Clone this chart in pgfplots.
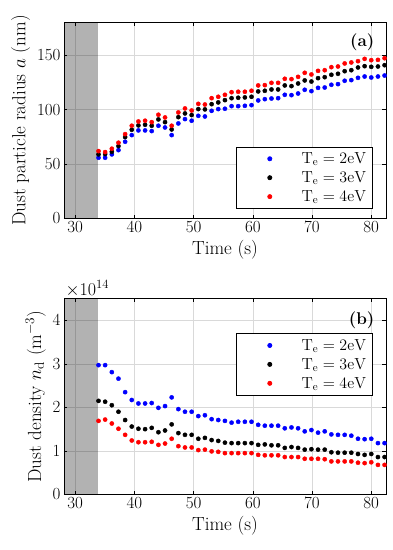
\RequirePackage{fix-cm}
\documentclass[border=0pt]{standalone}
\usepackage{pgfplots}
\pgfplotsset{compat=1.18}
\usepackage{pgfplotstable}

\pgfplotstableread{
t a2 a3 a4 n2 n3 n4
33.93 55.8 58.9 61.9 2.97 2.15 1.69
35.05 55.8 59.2 61.0 2.97 2.13 1.72
36.18 58.9 61.3 64.1 2.81 2.05 1.63
37.30 62.8 66.5 69.6 2.66 1.90 1.51
38.43 70.5 74.8 77.5 2.35 1.71 1.37
39.55 76.6 81.5 85.2 2.17 1.56 1.24
40.67 80.9 85.5 89.1 2.09 1.51 1.20
41.80 80.9 86.1 89.8 2.09 1.50 1.20
42.92 80.3 85.2 88.5 2.10 1.53 1.21
44.05 85.2 91.0 95.3 1.99 1.43 1.14
45.17 83.6 88.5 92.8 2.03 1.47 1.17
46.29 76.6 81.8 85.2 2.23 1.61 1.28
47.42 87.3 93.1 97.4 1.96 1.41 1.11
48.54 91.3 96.5 101.1 1.90 1.37 1.08
49.67 89.8 95.0 99.2 1.90 1.37 1.08
50.79 94.3 100.5 105.3 1.80 1.28 1.02
51.91 93.7 100.2 104.7 1.82 1.30 1.03
53.04 98.9 105.0 110.5 1.73 1.25 0.99
54.16 100.5 106.6 111.8 1.71 1.23 0.98
55.29 100.8 108.7 113.6 1.69 1.19 0.95
56.41 103.2 110.5 116.0 1.65 1.18 0.95
57.53 103.2 110.9 116.4 1.67 1.18 0.95
58.66 103.5 111.2 116.4 1.67 1.18 0.95
59.78 104.1 111.8 117.3 1.67 1.18 0.95
60.91 108.4 116.7 122.2 1.60 1.14 0.91
62.03 109.6 117.3 122.5 1.58 1.15 0.90
63.15 110.2 118.5 124.6 1.58 1.13 0.90
64.28 110.5 118.5 124.6 1.58 1.13 0.90
65.40 113.6 122.2 128.3 1.52 1.07 0.86
66.53 113.3 121.6 128.0 1.54 1.09 0.86
67.65 114.8 124.0 130.1 1.52 1.07 0.86
68.77 118.2 126.8 133.8 1.45 1.03 0.82
69.90 117.0 125.8 132.3 1.48 1.04 0.82
71.02 120.0 128.9 135.6 1.42 1.03 0.82
72.15 120.3 129.8 136.2 1.45 1.03 0.81
73.27 122.8 132.0 139.0 1.38 0.97 0.76
74.39 123.4 132.9 139.6 1.37 0.96 0.76
75.52 126.5 135.3 142.4 1.37 0.96 0.76
76.64 127.1 136.2 143.3 1.35 0.96 0.76
77.77 129.2 138.7 144.5 1.28 0.93 0.73
78.89 130.4 139.9 146.6 1.27 0.91 0.72
80.01 129.5 139.3 145.4 1.28 0.93 0.74
81.14 130.4 139.6 145.7 1.18 0.86 0.68
82.26 131.3 140.8 147.2 1.18 0.86 0.68
}\data

\pgfplotsset{
  dotleg/.style={legend image code/.code={\path (0pt,0pt) (58pt,0pt); \draw[##1] plot coordinates {(28pt,0pt)};}},
  dots/.style={only marks, mark=*, mark size=2.1pt, draw=#1, fill=#1, mark options={draw=#1, fill=#1}, dotleg},
  panel/.style={
    scale only axis, width=322pt, height=196pt,
    xmin=28.1, xmax=82.5, xtick={30,40,...,80},
    clip mode=individual,
    grid=major, major grid style={draw=black!15, line width=0.6pt},
    tick align=inside, tick style={black, line width=0.6pt}, major tick length=3.5pt,
    axis line style={line width=0.7pt},
    ticklabel style={font=\fontsize{17}{17}\selectfont},
    label style={font=\fontsize{19}{19}\selectfont},
    xlabel={Time (s)},
    legend cell align=left,
    legend style={font=\fontsize{16}{16}\selectfont, draw=black, line width=0.7pt,
      inner xsep=5pt, inner ysep=4pt, row sep=3.5pt, nodes={inner sep=1.5pt}},
  }
}
\definecolor{mblue}{RGB}{0,0,255}
\definecolor{mred}{RGB}{255,0,0}

\begin{document}
\begin{tikzpicture}
\useasboundingbox (0pt,0pt) rectangle (392pt,-550pt);
\begin{axis}[panel, at={(64pt,-22.5pt)}, anchor=north west,
  ymin=0, ymax=180, ytick={0,50,100,150},
  ylabel={Dust particle radius $a$ (nm)},
  legend style={at={(0.96,0.05)}, anchor=south east}]
\addplot[draw=none, fill=black, fill opacity=0.3, forget plot] coordinates {(28.1,180) (33.83,180)} \closedcycle;
\addplot[dots=mblue] table[x=t, y=a2] {\data};
\addplot[dots=black] table[x=t, y=a3] {\data};
\addplot[dots=mred] table[x=t, y=a4] {\data};
\legend{$\mathrm{T_e = 2eV}$, $\mathrm{T_e = 3eV}$, $\mathrm{T_e = 4eV}$}
\node[anchor=east, font=\bfseries\fontsize{17}{17}\selectfont] at (rel axis cs:0.975,0.9) {(a)};
\end{axis}
\begin{axis}[panel, at={(64pt,-298.5pt)}, anchor=north west,
  ymin=0, ymax=4.5, ytick={0,1,2,3,4},
  ylabel={Dust density $n_\mathrm{d}$ (m$^{-3}$)},
  legend style={at={(0.96,0.822)}, anchor=north east}]
\addplot[draw=none, fill=black, fill opacity=0.3, forget plot] coordinates {(28.1,4.5) (33.83,4.5)} \closedcycle;
\addplot[dots=mblue] table[x=t, y=n2] {\data};
\addplot[dots=black] table[x=t, y=n3] {\data};
\addplot[dots=mred] table[x=t, y=n4] {\data};
\legend{$\mathrm{T_e = 2eV}$, $\mathrm{T_e = 3eV}$, $\mathrm{T_e = 4eV}$}
\node[anchor=east, font=\bfseries\fontsize{17}{17}\selectfont] at (rel axis cs:0.975,0.887) {(b)};
\node[anchor=south west, inner sep=1.5pt, font=\fontsize{18}{18}\selectfont] at (rel axis cs:0,1) {$\times10^{14}$};
\end{axis}
\end{tikzpicture}
\end{document}
